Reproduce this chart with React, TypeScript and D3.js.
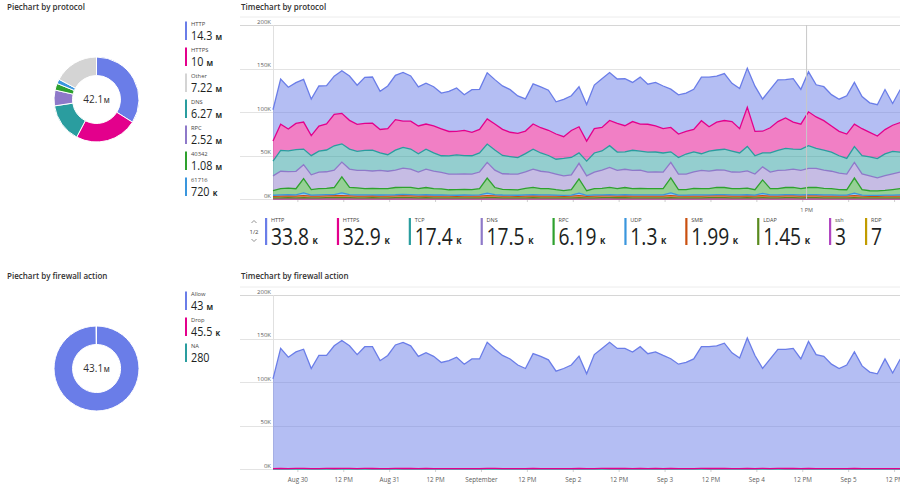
import * as d3 from 'd3';
import { useEffect, useRef } from 'react';

// protocol time series, thousands per 2 hours, starting Aug 29 17:30
const httpValues = [36, 52, 48, 47, 49, 42, 46, 44, 44, 49, 51, 45, 53, 53, 44, 49, 51, 56, 52, 45, 47, 45, 41, 46, 50, 41, 49, 46, 53, 51, 50, 49, 43, 37, 46, 47, 46, 37, 43, 40, 46, 42, 50, 56, 55, 51, 54, 45, 54, 46, 50, 49, 44, 45, 44, 46, 50, 57, 53, 54, 44, 46, 45, 52, 37, 44, 48, 44, 50, 40, 46, 37, 39, 36, 37, 44, 48, 37, 34, 36, 46, 25, 38];
const httpsValues = [23, 30, 25, 30, 31, 23, 29, 30, 36, 35, 33, 31, 31, 31, 27, 30, 35, 30, 32, 32, 29, 31, 31, 28, 27, 29, 27, 27, 29, 30, 30, 28, 28, 26, 29, 29, 29, 29, 25, 31, 30, 23, 28, 27, 29, 33, 30, 33, 31, 32, 30, 28, 28, 27, 26, 26, 38, 28, 32, 33, 34, 28, 45, 28, 25, 29, 33, 35, 31, 29, 39, 36, 34, 30, 28, 28, 26, 31, 28, 26, 28, 30, 34];
const tcpValues = [17, 24, 24, 25, 18, 22, 24, 25, 28, 21, 23, 22, 23, 24, 20, 19, 23, 24, 23, 21, 23, 21, 19, 21, 22, 21, 21, 22, 21, 23, 21, 20, 19, 21, 23, 21, 19, 17, 20, 20, 12, 17, 22, 22, 25, 21, 20, 23, 22, 23, 23, 22, 12, 19, 23, 23, 19, 23, 23, 24, 24, 22, 28, 21, 16, 22, 23, 25, 23, 24, 26, 23, 23, 22, 20, 18, 18, 21, 22, 22, 25, 26, 23];
const dnsValues = [17, 20, 19, 20, 16, 17, 19, 19, 20, 17, 21, 20, 21, 20, 21, 20, 20, 22, 21, 19, 21, 20, 19, 18, 18, 18, 18, 19, 18, 20, 18, 18, 18, 19, 21, 20, 19, 18, 17, 17, 18, 17, 19, 21, 23, 21, 21, 21, 21, 19, 19, 19, 18, 18, 18, 19, 21, 20, 20, 20, 19, 19, 20, 18, 15, 19, 21, 20, 21, 21, 22, 22, 21, 20, 19, 18, 18, 18, 17, 15, 17, 18, 19];
const rpcValues = [5.3, 7.2, 7.4, 7.1, 16.5, 6.3, 7.2, 7.3, 8.2, 18.3, 8.4, 8.1, 7.2, 7.4, 7.3, 7.1, 8.3, 8.2, 8.4, 7.2, 8.3, 7.4, 7.1, 6.2, 6.4, 6.3, 6.2, 7.3, 17.4, 8.2, 6.4, 6.3, 6.2, 7.4, 8.3, 7.2, 7.3, 6.2, 5.4, 6.3, 16.2, 5.3, 7.2, 7.4, 8.3, 7.2, 8.2, 7.3, 7.4, 7.2, 7.3, 7.2, 17.3, 6.3, 6.2, 7.4, 7.3, 7.2, 8.3, 8.2, 7.3, 7.2, 7.4, 6.3, 15.4, 7.2, 7.3, 8.2, 8.4, 7.3, 8.2, 8.3, 7.4, 7.2, 6.3, 6.2, 17.3, 6.4, 5.3, 5.2, 5.4, 6.3, 7.2];
const udpValues = [1.2, 1.3, 1.4, 1.3, 3.1, 1.2, 1.3, 1.4, 1.3, 3.2, 1.4, 1.3, 1.3, 1.2, 1.3, 1.4, 1.3, 1.5, 1.4, 1.3, 1.3, 1.2, 1.3, 1.2, 1.2, 1.3, 1.2, 1.3, 2.9, 1.4, 1.3, 1.2, 1.2, 1.3, 1.4, 1.3, 1.3, 1.2, 1.1, 1.2, 3.0, 1.1, 1.3, 1.3, 1.4, 1.3, 1.4, 1.3, 1.3, 1.3, 1.3, 1.3, 3.1, 1.2, 1.2, 1.3, 1.3, 1.3, 1.4, 1.4, 1.3, 1.3, 1.4, 1.2, 2.8, 1.3, 1.3, 1.4, 1.4, 1.3, 1.4, 1.4, 1.3, 1.3, 1.2, 1.2, 3.0, 1.2, 1.1, 1.1, 1.2, 1.2, 1.3];
const smbValues = [1.8, 2.0, 2.1, 2.0, 2.2, 1.9, 2.0, 2.1, 2.2, 2.3, 2.1, 2.0, 2.0, 2.1, 1.9, 2.0, 2.1, 2.2, 2.1, 2.0, 2.1, 2.0, 1.9, 1.9, 1.8, 1.9, 1.9, 2.0, 2.2, 2.1, 1.9, 1.9, 1.8, 2.0, 2.1, 2.0, 2.0, 1.9, 1.8, 1.9, 2.2, 1.8, 2.0, 2.0, 2.1, 2.0, 2.1, 2.0, 2.0, 2.0, 2.0, 2.0, 2.2, 1.9, 1.9, 2.0, 2.0, 2.0, 2.1, 2.1, 2.0, 2.0, 2.1, 1.9, 2.1, 2.0, 2.0, 2.1, 2.1, 2.0, 2.1, 2.1, 2.0, 2.0, 1.9, 1.9, 2.2, 1.9, 1.8, 1.8, 1.9, 1.9, 2.0];
const ldapValues = [1.3, 1.4, 1.5, 1.4, 1.6, 1.4, 1.4, 1.5, 1.5, 1.6, 1.5, 1.4, 1.4, 1.5, 1.4, 1.4, 1.5, 1.5, 1.5, 1.4, 1.5, 1.4, 1.4, 1.3, 1.3, 1.4, 1.4, 1.4, 1.6, 1.5, 1.4, 1.3, 1.3, 1.4, 1.5, 1.4, 1.4, 1.4, 1.3, 1.3, 1.6, 1.3, 1.4, 1.5, 1.5, 1.4, 1.5, 1.4, 1.4, 1.4, 1.4, 1.4, 1.6, 1.3, 1.4, 1.4, 1.4, 1.5, 1.5, 1.5, 1.4, 1.4, 1.5, 1.3, 1.6, 1.4, 1.4, 1.5, 1.5, 1.4, 1.5, 1.5, 1.4, 1.4, 1.3, 1.3, 1.6, 1.3, 1.3, 1.3, 1.3, 1.4, 1.4];
const sshValues = [0, 0, 0.003, 0, 0, 0, 0.001, 0, 0, 0, 0, 0.002, 0, 0, 0, 0, 0, 0.003, 0, 0, 0, 0, 0, 0.001, 0, 0, 0, 0, 0.002, 0, 0, 0, 0, 0, 0.003, 0, 0, 0, 0, 0, 0.001, 0, 0, 0, 0, 0.002, 0, 0, 0, 0, 0, 0, 0.003, 0, 0, 0, 0, 0, 0, 0.001, 0, 0, 0, 0, 0.002, 0, 0, 0, 0.003, 0, 0, 0, 0, 0, 0, 0.001, 0, 0, 0, 0, 0, 0, 0];
const rdpValues = [0.005, 0.007, 0.006, 0.007, 0.012, 0.006, 0.007, 0.007, 0.008, 0.011, 0.007, 0.006, 0.007, 0.007, 0.006, 0.007, 0.008, 0.007, 0.007, 0.006, 0.007, 0.006, 0.006, 0.007, 0.006, 0.006, 0.007, 0.007, 0.01, 0.007, 0.006, 0.006, 0.007, 0.007, 0.008, 0.007, 0.006, 0.006, 0.005, 0.006, 0.011, 0.005, 0.007, 0.007, 0.008, 0.007, 0.007, 0.007, 0.006, 0.007, 0.007, 0.007, 0.012, 0.006, 0.006, 0.007, 0.007, 0.007, 0.008, 0.007, 0.007, 0.007, 0.008, 0.006, 0.01, 0.007, 0.007, 0.007, 0.007, 0.007, 0.008, 0.007, 0.007, 0.007, 0.006, 0.006, 0.011, 0.006, 0.006, 0.005, 0.006, 0.006, 0.007];

// firewall action time series, thousands per 2 hours
const allowValues = [103, 138, 128, 134, 137, 115, 130, 130, 141, 147, 141, 131, 140, 140, 124, 130, 142, 145, 141, 129, 133, 129, 122, 124, 128, 120, 126, 126, 145, 137, 130, 126, 119, 115, 132, 129, 125, 112, 115, 119, 129, 109, 131, 138, 145, 138, 138, 134, 140, 132, 134, 130, 126, 120, 122, 126, 140, 140, 141, 144, 133, 127, 150, 130, 115, 126, 137, 137, 138, 126, 146, 131, 129, 120, 115, 119, 134, 118, 111, 109, 126, 110, 126];
const dropValues = [0.5, 0.6, 0.5, 0.6, 0.7, 0.5, 0.5, 0.6, 0.6, 0.7, 0.6, 0.5, 0.6, 0.6, 0.5, 0.5, 0.6, 0.6, 0.6, 0.5, 0.6, 0.5, 0.5, 0.5, 0.5, 0.5, 0.5, 0.5, 0.7, 0.6, 0.5, 0.5, 0.5, 0.5, 0.6, 0.5, 0.5, 0.4, 0.5, 0.5, 0.7, 0.4, 0.5, 0.6, 0.6, 0.6, 0.6, 0.5, 0.6, 0.5, 0.6, 0.5, 0.7, 0.5, 0.5, 0.5, 0.6, 0.6, 0.6, 0.6, 0.5, 0.5, 0.6, 0.5, 0.7, 0.5, 0.6, 0.6, 0.6, 0.5, 0.6, 0.5, 0.5, 0.5, 0.5, 0.5, 0.7, 0.5, 0.4, 0.4, 0.5, 0.4, 0.5];
const naValues = [0.003, 0.004, 0.003, 0.003, 0.004, 0.003, 0.003, 0.004, 0.003, 0.004, 0.003, 0.003, 0.004, 0.003, 0.003, 0.003, 0.004, 0.004, 0.003, 0.003, 0.003, 0.003, 0.003, 0.003, 0.003, 0.003, 0.003, 0.004, 0.004, 0.003, 0.003, 0.003, 0.003, 0.003, 0.004, 0.003, 0.003, 0.003, 0.003, 0.003, 0.004, 0.003, 0.003, 0.004, 0.004, 0.003, 0.004, 0.003, 0.004, 0.003, 0.003, 0.003, 0.004, 0.003, 0.003, 0.003, 0.004, 0.003, 0.004, 0.004, 0.003, 0.003, 0.004, 0.003, 0.004, 0.003, 0.003, 0.004, 0.004, 0.003, 0.004, 0.003, 0.003, 0.003, 0.003, 0.003, 0.004, 0.003, 0.003, 0.003, 0.003, 0.003, 0.003];

const protocolNames = ['HTTP', 'HTTPS', 'TCP', 'DNS', 'RPC', 'UDP', 'SMB', 'LDAP', 'ssh', 'RDP'];
const protocolColors = ['#6a7de8', '#e3008c', '#2a9d9f', '#8e79c9', '#2ea12e', '#3a96dd', '#ca5010', '#5a8a1e', '#b146c2', '#c19c00'];
const hoverValues = ['33.8', '32.9', '17.4', '17.5', '6.19', '1.3', '1.99', '1.45', '3', '7'];
const hoverUnits = ['K', 'K', 'K', 'K', 'K', 'K', 'K', 'K', '', ''];

const protoPieNames = ['HTTP', 'HTTPS', 'Other', 'DNS', 'RPC', '40342', '61716'];
const protoPieValues = [14.3e6, 10e6, 7.22e6, 6.27e6, 2.52e6, 1.08e6, 0.72e6];
const protoPieLabels = ['14.3', '10', '7.22', '6.27', '2.52', '1.08', '720'];
const protoPieUnits = ['M', 'M', 'M', 'M', 'M', 'M', 'K'];
const protoPieColors = ['#6a7de8', '#e3008c', '#d4d4d4', '#2a9d9f', '#8e79c9', '#2ea12e', '#3a96dd'];
const protoPieOrder = ['HTTP', 'HTTPS', 'DNS', 'RPC', '40342', '61716', 'Other'];
const protoTotal = ['42.1', 'M'];

const fwNames = ['Allow', 'Drop', 'NA'];
const fwPieValues = [43e6, 45.5e3, 280];
const fwPieLabels = ['43', '45.5', '280'];
const fwPieUnits = ['M', 'K', ''];
const fwColors = ['#6a7de8', '#e3008c', '#2a9d9f'];
const fwTotal = ['43.1', 'M'];

const yTicks = [0, 50000, 100000, 150000, 200000];
const startTime = new Date(2020, 7, 29, 17, 30);
const stepHours = 2;
const hoverTime = new Date(2020, 8, 4, 13, 0);

const FONT = "'Segoe UI', 'Open Sans', sans-serif";
const NUM_SCALE = 0.8;

const App = (): React.ReactElement => {
  const ref: any = useRef();

  useEffect(() => {
    const svg = d3.select(ref.current);
    svg.selectAll('*').remove();
    svg.style('font-family', FONT);

    const times = allowValues.map((_, i) => d3.timeHour.offset(startTime, i * stepHours));
    const x = d3.scaleTime().domain([times[0], times[times.length - 1]]).range([273, 900.3]);

    const title = (tx: number, ty: number, t: string) => {
      svg.append('text').attr('x', tx).attr('y', ty).attr('fill', '#323130')
        .style('font-size', '8px').style('font-weight', 600).text(t);
    };
    title(7, 9.5, 'Piechart by protocol');
    title(241, 9.5, 'Timechart by protocol');
    title(7, 279, 'Piechart by firewall action');
    title(241, 279, 'Timechart by firewall action');

    // number + small unit, number horizontally condensed
    const numberWithUnit = (g: any, nx: number, ny: number, value: string, unit: string, size: number, unitSize: number) => {
      const t = g.append('text').attr('transform', `translate(${nx},${ny}) scale(${NUM_SCALE},1)`)
        .attr('fill', '#201f1e').style('font-size', size + 'px').text(value);
      const w = t.node().getComputedTextLength() * NUM_SCALE;
      let uw = 0;
      if (unit) {
        const u = g.append('text').attr('x', nx + w + unitSize * 0.45).attr('y', ny - 0.5)
          .attr('fill', '#201f1e').style('font-size', unitSize + 'px').style('font-weight', 700).text(unit);
        uw = unitSize * 0.45 + u.node().getComputedTextLength();
      }
      return w + uw;
    };

    // ---------- pies ----------
    const drawPie = (cy: number, names: string[], values: number[], colors: string[], order: string[], total: string[]) => {
      const data = order.map((n) => ({ name: n, value: values[names.indexOf(n)], color: colors[names.indexOf(n)] }));
      const pie = d3.pie<any>().sort(null).value((d) => d.value);
      const arc = d3.arc<any>().innerRadius(24).outerRadius(42.5);
      const g = svg.append('g').attr('transform', `translate(96.5,${cy})`);
      g.selectAll('path').data(pie(data)).enter().append('path')
        .attr('d', arc).attr('fill', (d) => d.data.color).attr('stroke', '#fff').attr('stroke-width', 1);
      const c = g.append('g');
      const t1 = c.append('text').attr('y', 3.5).attr('fill', '#323130').style('font-size', '10px').text(total[0]);
      const w1 = t1.node().getComputedTextLength();
      const t2 = c.append('text').attr('x', w1 + 0.5).attr('y', 3.5).attr('fill', '#323130')
        .style('font-size', '6.5px').style('font-weight', 600).text(total[1]);
      const w2 = t2.node().getComputedTextLength();
      c.attr('transform', `translate(${-(w1 + 0.5 + w2) / 2},0)`);
    };
    drawPie(99.5, protoPieNames, protoPieValues, protoPieColors, protoPieOrder, protoTotal);
    drawPie(368.5, fwNames, fwPieValues, fwColors, fwNames, fwTotal);

    const pieLegend = (top: number, names: string[], labels: string[], units: string[], colors: string[]) => {
      const g = svg.append('g');
      names.forEach((n, i) => {
        const y0 = top + i * 26;
        g.append('rect').attr('x', 185).attr('y', y0).attr('width', 2).attr('height', 18.5).attr('fill', colors[i]);
        g.append('text').attr('x', 191).attr('y', y0 + 4.5).attr('fill', '#484644').style('font-size', '5.8px').text(n);
        numberWithUnit(g, 191, y0 + 18.5, labels[i], units[i], 13.5, 7);
      });
    };
    pieLegend(21.5, protoPieNames, protoPieLabels, protoPieUnits, protoPieColors);
    pieLegend(291.5, fwNames, fwPieLabels, fwPieUnits, fwColors);

    // ---------- time charts ----------
    const frame = (y: any, top: number, bottom: number) => {
      const g = svg.append('g');
      g.append('line').attr('x1', 240).attr('x2', 900).attr('y1', top - 8).attr('y2', top - 8).attr('stroke', '#ececec');
      g.selectAll('line.grid').data(yTicks).enter().append('line').attr('class', 'grid')
        .attr('x1', 240).attr('x2', 900).attr('y1', (d) => Math.round(y(d)) + 0.5).attr('y2', (d) => Math.round(y(d)) + 0.5)
        .attr('stroke', (d) => (d === 200000 ? '#d6d6d6' : '#e3e3e3'));
      g.selectAll('text.ylab').data(yTicks).enter().append('text').attr('class', 'ylab')
        .attr('x', 271).attr('y', (d) => y(d) - 1.5).attr('text-anchor', 'end').attr('fill', '#605e5c')
        .style('font-size', '6px').text((d) => d / 1000 + 'K');
      g.append('line').attr('x1', 273.5).attr('x2', 273.5).attr('y1', top).attr('y2', bottom).attr('stroke', '#e0e0e0');
      g.selectAll('line.tick').data(x.ticks(d3.timeHour.every(12) as any)).enter().append('line').attr('class', 'tick')
        .attr('x1', (d) => x(d)).attr('x2', (d) => x(d)).attr('y1', bottom).attr('y2', bottom + 3).attr('stroke', '#d0d0d0');
    };

    // protocol stacked areas
    const yTop = d3.scaleLinear().domain([0, 200000]).range([199, 25]);
    frame(yTop, 25, 199);
    const protocolSeries = [httpValues, httpsValues, tcpValues, dnsValues, rpcValues, udpValues, smbValues, ldapValues, sshValues, rdpValues];
    const rows = times.map((t, i) => {
      const r: any = { time: t };
      protocolNames.forEach((n, j) => { r[n] = protocolSeries[j][i] * 1000; });
      return r;
    });
    const stackTop = d3.stack<any>().keys([...protocolNames].reverse())(rows);
    const area = (y: any) => d3.area<any>().x((d) => x(d.data.time)).y0((d) => y(d[0])).y1((d) => y(d[1]));
    const topLine = (y: any) => d3.line<any>().x((d) => x(d.data.time)).y((d) => y(d[1]));
    const gTop = svg.append('g');
    gTop.selectAll('path.area').data(stackTop).enter().append('path').attr('class', 'area')
      .attr('d', area(yTop) as any).attr('fill', (s) => protocolColors[protocolNames.indexOf(s.key)]).attr('fill-opacity', 0.5);
    gTop.selectAll('path.line').data(stackTop).enter().append('path').attr('class', 'line')
      .attr('d', topLine(yTop) as any).attr('fill', 'none')
      .attr('stroke', (s) => protocolColors[protocolNames.indexOf(s.key)]).attr('stroke-width', 1.3);

    // hover crosshair
    svg.append('line').attr('x1', x(hoverTime)).attr('x2', x(hoverTime)).attr('y1', 25).attr('y2', 199)
      .attr('stroke', '#c8c8c8');
    svg.append('text').attr('x', x(hoverTime)).attr('y', 212).attr('text-anchor', 'middle').attr('fill', '#605e5c')
      .style('font-size', '5.5px').text(d3.timeFormat('%-I %p')(hoverTime));

    // hover legend row
    const gLeg = svg.append('g');
    gLeg.append('path').attr('d', 'M251.5,223 L254,220.5 L256.5,223').attr('fill', 'none').attr('stroke', '#777').attr('stroke-width', 0.8);
    gLeg.append('text').attr('x', 254).attr('y', 234).attr('text-anchor', 'middle').attr('fill', '#484644').style('font-size', '6px').text('1/2');
    gLeg.append('path').attr('d', 'M251.5,239 L254,241.5 L256.5,239').attr('fill', 'none').attr('stroke', '#777').attr('stroke-width', 0.8);
    let lx = 265;
    protocolNames.forEach((n, i) => {
      gLeg.append('rect').attr('x', lx).attr('y', 218).attr('width', 2.2).attr('height', 27).attr('fill', protocolColors[i]);
      gLeg.append('text').attr('x', lx + 6).attr('y', 221.5).attr('fill', '#484644').style('font-size', '5.5px').text(n);
      const w = numberWithUnit(gLeg, lx + 6, 244.5, hoverValues[i], hoverUnits[i], 24, 8);
      lx += 6 + w + 19;
    });

    // firewall chart
    const yBot = d3.scaleLinear().domain([0, 200000]).range([469, 295]);
    frame(yBot, 295, 469);
    const fwSeries = [allowValues, dropValues, naValues];
    const fwRows = times.map((t, i) => {
      const r: any = { time: t };
      fwNames.forEach((n, j) => { r[n] = fwSeries[j][i] * 1000; });
      return r;
    });
    const stackBot = d3.stack<any>().keys([...fwNames].reverse())(fwRows);
    const gBot = svg.append('g');
    gBot.selectAll('path.area').data(stackBot).enter().append('path').attr('class', 'area')
      .attr('d', area(yBot) as any).attr('fill', (s) => fwColors[fwNames.indexOf(s.key)]).attr('fill-opacity', 0.5);
    gBot.selectAll('path.line').data(stackBot).enter().append('path').attr('class', 'line')
      .attr('d', topLine(yBot) as any).attr('fill', 'none')
      .attr('stroke', (s) => fwColors[fwNames.indexOf(s.key)]).attr('stroke-width', 1.3);

    const tickFmt = (d: Date) =>
      d.getHours() === 12 ? '12 PM' : d.getDate() === 1 ? d3.timeFormat('%B')(d) : d3.timeFormat('%b %-d')(d);
    svg.append('g').selectAll('text').data(x.ticks(d3.timeHour.every(12) as any)).enter().append('text')
      .attr('x', (d) => x(d)).attr('y', 482).attr('text-anchor', 'middle').attr('fill', '#605e5c')
      .style('font-size', '6.3px').text((d) => tickFmt(d));
  }, []);

  return (
    <svg
      ref={ref}
      width={900}
      height={485}
      style={{ position: 'absolute', left: 0, top: 0, background: '#fff' }}
    />
  );
};

export default App;
